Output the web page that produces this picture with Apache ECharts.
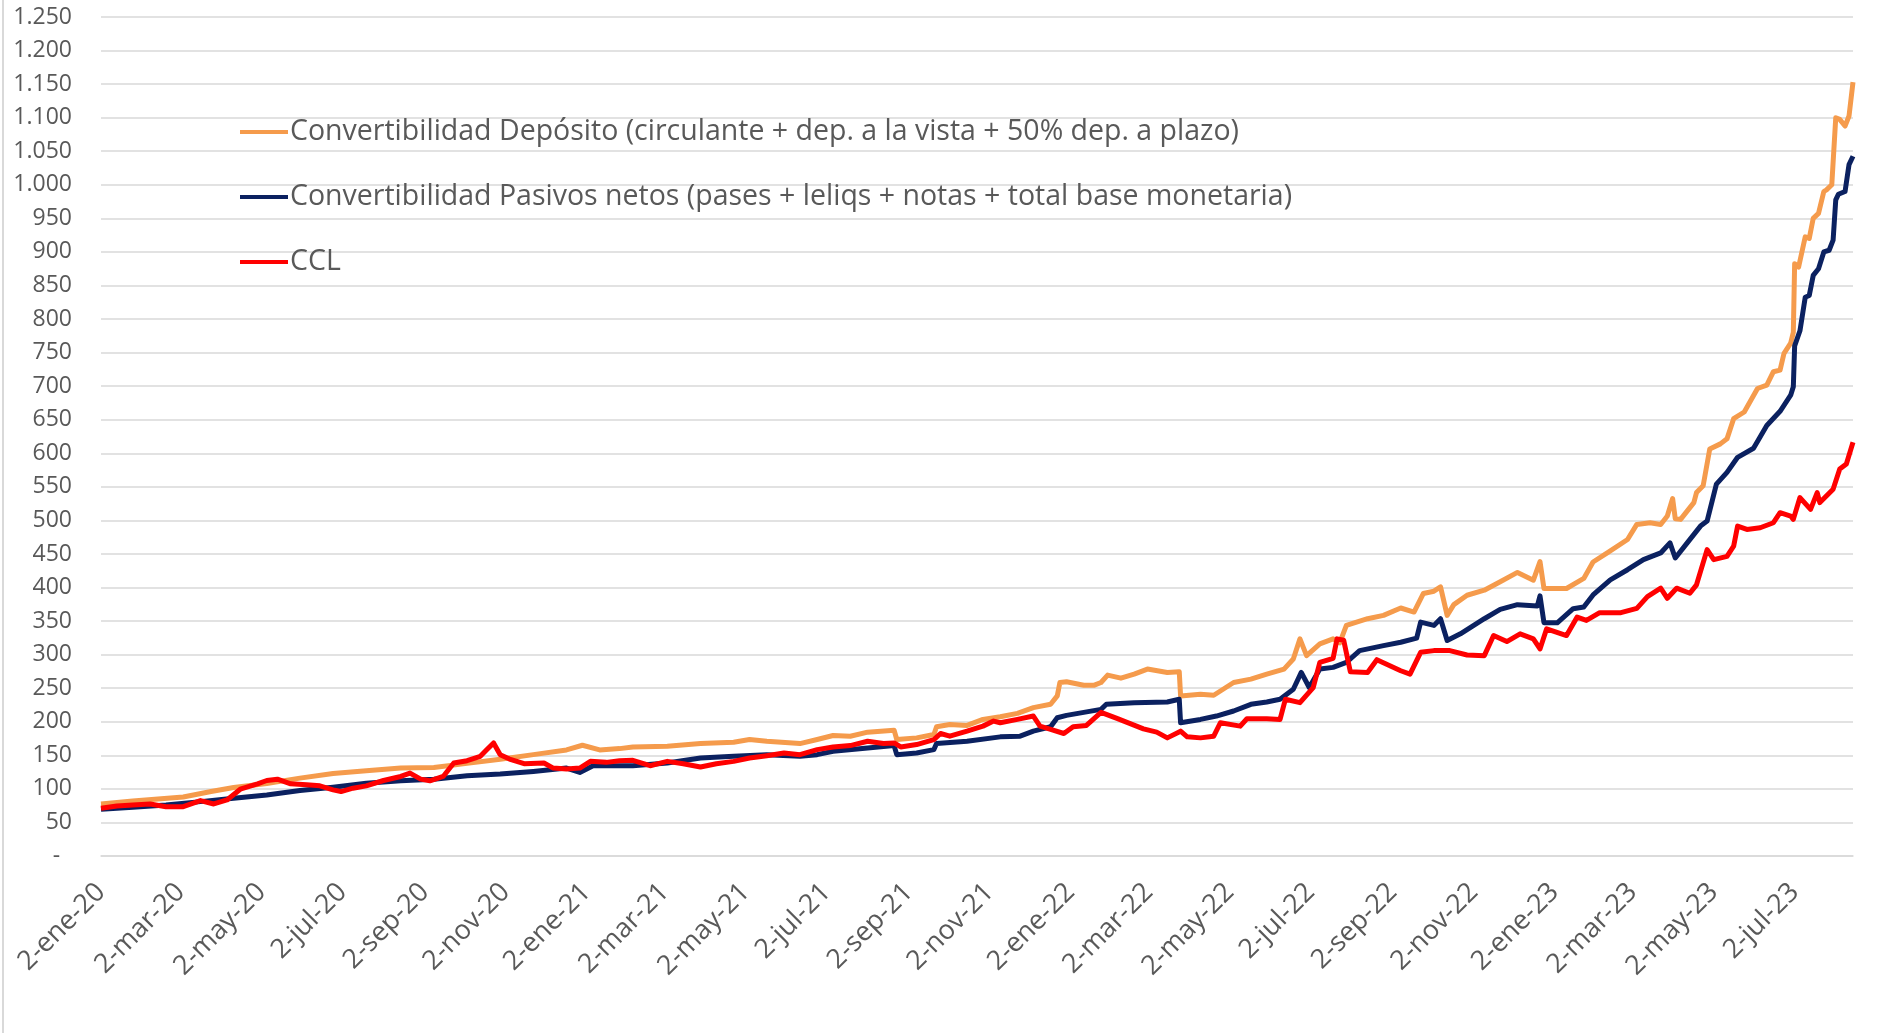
<!DOCTYPE html>
<html>
<head>
<meta charset="utf-8">
<script src="https://cdn.jsdelivr.net/npm/echarts@6/dist/echarts.min.js"></script>
<style>
html,body{margin:0;padding:0;background:#fff;}
#chart{width:1887px;height:1033px;}
</style>
</head>
<body>
<div id="chart"></div>
<script>
// ---- Data ----
const seriesNames = [
  'Convertibilidad Depósito (circulante + dep. a la vista + 50% dep. a plazo)',
  'Convertibilidad Pasivos netos (pases + leliqs + notas + total base monetaria)',
  'CCL'
];

const depDates = ['2020-01-02','2020-01-26','2020-03-04','2020-03-25','2020-04-11','2020-05-06','2020-05-31','2020-06-25','2020-07-20','2020-08-15','2020-09-09','2020-10-04','2020-10-29','2020-11-23','2020-12-18','2020-12-30','2021-01-12','2021-01-27','2021-02-06','2021-03-04','2021-03-29','2021-04-23','2021-05-05','2021-05-18','2021-06-12','2021-06-25','2021-07-07','2021-07-20','2021-08-02','2021-08-22','2021-08-24','2021-09-08','2021-09-21','2021-09-23','2021-10-03','2021-10-16','2021-10-28','2021-11-10','2021-11-23','2021-12-05','2021-12-18','2021-12-23','2021-12-25','2021-12-30','2022-01-12','2022-01-20','2022-01-25','2022-01-30','2022-02-09','2022-02-19','2022-03-01','2022-03-16','2022-03-25','2022-03-26','2022-04-10','2022-04-20','2022-05-05','2022-05-18','2022-05-30','2022-06-12','2022-06-19','2022-06-24','2022-06-29','2022-07-09','2022-07-19','2022-07-24','2022-07-29','2022-08-14','2022-08-26','2022-09-08','2022-09-18','2022-09-25','2022-10-03','2022-10-08','2022-10-13','2022-10-18','2022-10-28','2022-11-10','2022-11-22','2022-12-05','2022-12-17','2022-12-22','2022-12-25','2023-01-11','2023-01-24','2023-01-31','2023-02-11','2023-02-26','2023-03-05','2023-03-15','2023-03-23','2023-03-28','2023-04-01','2023-04-03','2023-04-07','2023-04-17','2023-04-19','2023-04-24','2023-04-29','2023-05-07','2023-05-12','2023-05-17','2023-05-25','2023-06-04','2023-06-11','2023-06-16','2023-06-21','2023-06-24','2023-06-29','2023-07-01','2023-07-02','2023-07-05','2023-07-10','2023-07-13','2023-07-16','2023-07-20','2023-07-24','2023-07-26','2023-07-30','2023-08-02','2023-08-05','2023-08-09','2023-08-12','2023-08-15'];
const depValues = [77.5,82,88,96,102,108,116,123,127,131,132,138,144,151,158,165,158,160,162.5,163.5,167.5,169.5,173.5,171,167.5,173.5,179.5,178.5,184.5,187.5,173.5,176,181,192.5,196,194.5,203.5,207.5,212.5,221,226,238.5,258.5,259.5,254.5,254.5,258.5,269.5,265,271,278.5,273.5,274.5,238.5,241,239.5,258.5,263.5,271,278.5,293.5,323.5,298.5,316,323.5,317.5,343.5,353.5,358.5,369.5,363.5,391,394.5,401,358.5,374.5,388.5,396,408.5,422.5,411,438.5,398.5,398.5,413.5,438,452,471.5,494,496.5,494,506.5,532.5,502.5,501.5,526.5,541.5,551.5,606.5,614,621.5,651.5,661.5,696.5,701.5,721.5,724,749,764,780,882.5,877.5,922.5,920,950,957.5,990,992.5,1000,1100,1097.5,1087.5,1102.5,1153];

const pasDates = ['2020-01-02','2020-01-26','2020-02-20','2020-03-17','2020-04-11','2020-05-06','2020-05-31','2020-06-25','2020-07-20','2020-08-15','2020-09-09','2020-10-04','2020-10-29','2020-11-23','2020-12-18','2020-12-28','2021-01-07','2021-01-27','2021-02-06','2021-03-04','2021-03-29','2021-04-23','2021-05-18','2021-06-12','2021-06-25','2021-07-07','2021-08-02','2021-08-22','2021-08-24','2021-09-08','2021-09-21','2021-09-23','2021-10-16','2021-11-10','2021-11-25','2021-12-05','2021-12-18','2021-12-23','2021-12-30','2022-01-25','2022-01-29','2022-02-19','2022-03-16','2022-03-25','2022-03-26','2022-04-10','2022-04-22','2022-05-05','2022-05-18','2022-05-30','2022-06-09','2022-06-19','2022-06-25','2022-07-01','2022-07-09','2022-07-19','2022-07-29','2022-08-08','2022-08-26','2022-09-08','2022-09-20','2022-09-23','2022-10-03','2022-10-08','2022-10-13','2022-10-23','2022-11-10','2022-11-22','2022-12-05','2022-12-20','2022-12-22','2022-12-25','2023-01-04','2023-01-16','2023-01-24','2023-01-31','2023-02-13','2023-02-26','2023-03-10','2023-03-23','2023-03-30','2023-04-03','2023-04-12','2023-04-22','2023-04-27','2023-05-04','2023-05-12','2023-05-20','2023-06-01','2023-06-11','2023-06-21','2023-06-29','2023-07-01','2023-07-02','2023-07-06','2023-07-10','2023-07-13','2023-07-16','2023-07-20','2023-07-24','2023-07-28','2023-07-31','2023-08-02','2023-08-04','2023-08-09','2023-08-12','2023-08-15'];
const pasValues = [69.5,72.5,76,81,86,91,97.5,102.5,108.5,112,114.5,119.5,122,126,131,124.5,134.5,134.5,134.5,138.5,146,148.5,151,148.5,151,156,161,164.5,151,153.5,158.5,167.5,171,177.5,178.5,186,192.5,206,209.5,218.5,226,228.5,229.5,233.5,198.5,203.5,208.5,216,226,229.5,233.5,248.5,273.5,251,278.5,281,288.5,306,313.5,318.5,324.5,348.5,343.5,353.5,321,331,353.5,367.5,374.5,372.5,387.5,347.5,347.5,368.5,371,389,411.5,426.5,441.5,451.5,466.5,444,466.5,491.5,499,554,571.5,594,607.5,641.5,662.5,686.5,699,760,782.5,832.5,835,865,875,900,902.5,917.5,977.5,986,990,1030,1042.5];

const cclDates = ['2020-01-02','2020-01-14','2020-01-26','2020-02-08','2020-02-20','2020-03-04','2020-03-17','2020-03-27','2020-04-06','2020-04-16','2020-04-29','2020-05-06','2020-05-14','2020-05-24','2020-06-05','2020-06-15','2020-06-25','2020-07-01','2020-07-10','2020-07-20','2020-08-02','2020-08-15','2020-08-22','2020-08-30','2020-09-06','2020-09-16','2020-09-24','2020-10-04','2020-10-14','2020-10-19','2020-10-24','2020-10-29','2020-11-05','2020-11-16','2020-12-01','2020-12-08','2020-12-18','2020-12-28','2021-01-05','2021-01-17','2021-01-27','2021-02-06','2021-02-19','2021-03-04','2021-03-16','2021-03-29','2021-04-10','2021-04-23','2021-05-05','2021-05-18','2021-05-31','2021-06-12','2021-06-25','2021-07-07','2021-07-20','2021-08-02','2021-08-14','2021-08-22','2021-08-27','2021-09-08','2021-09-21','2021-09-26','2021-10-03','2021-10-16','2021-10-28','2021-11-05','2021-11-10','2021-11-23','2021-12-05','2021-12-10','2021-12-18','2021-12-28','2022-01-04','2022-01-14','2022-01-25','2022-02-06','2022-02-26','2022-03-08','2022-03-16','2022-03-26','2022-03-31','2022-04-10','2022-04-20','2022-04-25','2022-05-10','2022-05-15','2022-05-30','2022-06-09','2022-06-13','2022-06-24','2022-07-04','2022-07-09','2022-07-19','2022-07-22','2022-07-27','2022-08-01','2022-08-14','2022-08-21','2022-09-08','2022-09-15','2022-09-23','2022-10-03','2022-10-15','2022-10-28','2022-11-10','2022-11-17','2022-11-27','2022-12-07','2022-12-17','2022-12-22','2022-12-27','2023-01-11','2023-01-19','2023-01-26','2023-02-05','2023-02-21','2023-03-05','2023-03-13','2023-03-23','2023-03-28','2023-04-04','2023-04-14','2023-04-19','2023-04-27','2023-05-02','2023-05-12','2023-05-17','2023-05-20','2023-05-27','2023-06-06','2023-06-16','2023-06-21','2023-06-29','2023-07-01','2023-07-06','2023-07-14','2023-07-19','2023-07-21','2023-07-31','2023-08-05','2023-08-10','2023-08-15'];
const cclValues = [71,74.5,76,77.5,73.5,73.5,82.5,77.5,83.5,99.5,107.5,112.5,114.5,107.5,106,104.5,98.5,96,101,104.5,112.5,118.5,123.5,114.5,112,118.5,138.5,142,148.5,158.5,168.5,151,144.5,137.5,138.5,131,129.5,131,141,139.5,142,142.5,134.5,141,137.5,132.5,137.5,141,146,149.5,153.5,151,158.5,162.5,164.5,171,167.5,168.5,162.5,166,173.5,182.5,178.5,186,193.5,201,198.5,203.5,208.5,193.5,188.5,182.5,192.5,194.5,214,205,189.5,184.5,176,186,177.5,176,178.5,198.5,193.5,204.5,204.5,203.5,233.5,228.5,251,288.5,294.5,323.5,321.5,274.5,273.5,292.5,276,271,303.5,306,306,299.5,298.5,328.5,319.5,331,323.5,308.5,338.5,328.5,356,351,362.5,362.5,369,386.5,399,384,399,391.5,404,456.5,441.5,446.5,461.5,491.5,486.5,489,496.5,511.5,506.5,501.5,534,516.5,541.5,526.5,546.5,576.5,584,616.5];

// tick labels: 2nd day of every other month
const tickDates = ['2020-01-02','2020-03-02','2020-05-02','2020-07-02','2020-09-02','2020-11-02','2021-01-02','2021-03-02','2021-05-02','2021-07-02','2021-09-02','2021-11-02','2022-01-02','2022-03-02','2022-05-02','2022-07-02','2022-09-02','2022-11-02','2023-01-02','2023-03-02','2023-05-02','2023-07-02'];
const monthNames = ['ene','feb','mar','abr','may','jun','jul','ago','sep','oct','nov','dic'];

const colors = ['#F59B4C', '#0B2160', '#FF0000'];
const FONT = 'Open Sans';

function toTs(s) {
  const p = s.split('-').map(Number);
  return Date.UTC(p[0], p[1] - 1, p[2]);
}
function pairs(d, v) { return d.map((x, i) => [toTs(x), v[i]]); }

function fmtY(v) {
  if (v === 0) return '-  ';
  if (v >= 1000) {
    const r = v % 1000;
    return Math.floor(v / 1000) + '.' + String(r).padStart(3, '0');
  }
  return String(v);
}
function fmtX(v) {
  const d = new Date(v);
  return d.getUTCDate() + '-' + monthNames[d.getUTCMonth()] + '-' + String(d.getUTCFullYear()).slice(2);
}

const chart = echarts.init(document.getElementById('chart'), null, {renderer: 'canvas'});

const lineSeries = [
  {name: seriesNames[0], data: pairs(depDates, depValues), color: colors[0]},
  {name: seriesNames[1], data: pairs(pasDates, pasValues), color: colors[1]},
  {name: seriesNames[2], data: pairs(cclDates, cclValues), color: colors[2]}
].map(s => ({
  name: s.name,
  type: 'line',
  data: s.data,
  showSymbol: false,
  symbol: 'none',
  animation: false,
  lineStyle: {color: s.color, width: 5, join: 'round'},
  itemStyle: {color: s.color}
}));

chart.setOption({
  backgroundColor: '#ffffff',
  animation: false,
  textStyle: {fontFamily: FONT},
  grid: {left: 101, right: 34, top: 17, bottom: 177, outerBoundsMode: 'none', containLabel: false},
  legend: {
    orient: 'vertical',
    left: 240,
    top: 117,
    padding: 0,
    itemWidth: 48,
    itemHeight: 4,
    itemGap: 35,
    icon: 'rect',
    textStyle: {fontFamily: FONT, fontSize: 28.5, color: '#595959', lineHeight: 30, padding: [0, 0, 0, -3]},
    data: seriesNames
  },
  xAxis: {
    type: 'value',
    min: toTs('2020-01-02'),
    max: toTs('2023-08-15'),
    axisLine: {show: true, onZero: false, lineStyle: {color: '#D9D9D9', width: 1.5}},
    axisTick: {show: false},
    splitLine: {show: false},
    axisLabel: {
      customValues: tickDates.map(toTs),
      formatter: fmtX,
      rotate: 45,
      margin: 32,
      fontFamily: FONT,
      fontSize: 27,
      color: '#595959',
      showMinLabel: true,
      showMaxLabel: true
    }
  },
  yAxis: {
    type: 'value',
    min: 0,
    max: 1250,
    interval: 50,
    axisLine: {show: false},
    axisTick: {show: false},
    splitLine: {show: true, lineStyle: {color: '#D9D9D9', width: 1.5}},
    axisLabel: {formatter: fmtY, margin: 29, fontFamily: FONT, fontSize: 23, color: '#595959'}
  },
  graphic: [{
    type: 'line',
    shape: {x1: 3, y1: 0, x2: 3, y2: 1033},
    style: {stroke: '#D9D9D9', lineWidth: 2}
  }],
  series: lineSeries
});
</script>
</body>
</html>
